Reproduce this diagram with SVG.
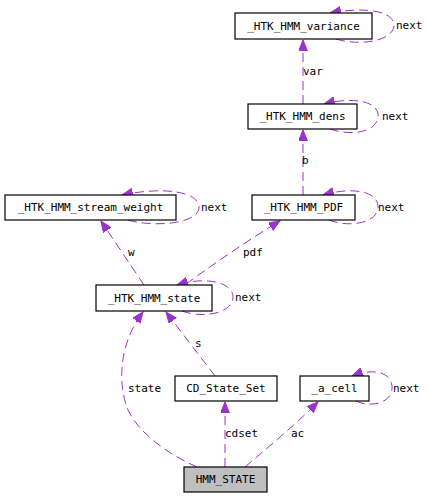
<svg xmlns="http://www.w3.org/2000/svg" width="428" height="497" viewBox="0 0 428 497">
<style>
.box{fill:#fff;stroke:#000;stroke-width:1.2}
.hl{fill:#bfbfbf;stroke:#000;stroke-width:1.2}
text{font-family:"DejaVu Sans Mono","Liberation Mono",monospace;font-size:11px;fill:#000}
.nl{text-anchor:middle}
.e{fill:none;stroke:#9a32cd;stroke-width:1;stroke-dasharray:9,5}
</style>
<defs>
<marker id="ah" markerUnits="userSpaceOnUse" markerWidth="12" markerHeight="10" refX="11" refY="4.5" orient="auto">
<path d="M0,0 L11,4.5 L0,9 z" fill="#9a32cd" stroke="#9a32cd"/>
</marker>
</defs>
<rect width="428" height="497" fill="#fff"/>
<g id="connectors">
<path class="e" marker-end="url(#ah)" d="M303,104 L303,40"/>
<text x="303" y="75">var</text>
<path class="e" marker-end="url(#ah)" d="M303,195 L303,130"/>
<text x="302" y="164">b</text>
<path class="e" marker-end="url(#ah)" d="M144,285 L101,221"/>
<text x="128" y="256">w</text>
<path class="e" marker-end="url(#ah)" d="M186,284 C208,268 248,240 280,221"/>
<text x="243" y="256">pdf</text>
<path class="e" marker-end="url(#ah)" d="M215,376 L166,312"/>
<text x="195" y="347">s</text>
<path class="e" marker-end="url(#ah)" d="M197,467 C170,455 140,435 128,410 C118,385 118,345 143,312"/>
<text x="128" y="392">state</text>
<path class="e" marker-end="url(#ah)" d="M225,467 L225,402"/>
<text x="225" y="437">cdset</text>
<path class="e" marker-end="url(#ah)" d="M245,467 C265,450 295,425 318,402"/>
<text x="291" y="437">ac</text>
<path class="e" marker-end="url(#ah)" d="M336,39 C358,46 392,42 394,26 C395,12 368,6 330,13"/>
<text x="396" y="29">next</text>
<path class="e" marker-end="url(#ah)" d="M330,129 C350,136 376,133 378,117 C380,102 355,96 324,104"/>
<text x="382" y="120">next</text>
<path class="e" marker-end="url(#ah)" d="M128,220 C150,227 197,225 199,208 C200,192 165,186 122,195"/>
<text x="201" y="211">next</text>
<path class="e" marker-end="url(#ah)" d="M329,220 C345,227 376,225 378,208 C379,192 355,186 323,195"/>
<text x="378" y="211">next</text>
<path class="e" marker-end="url(#ah)" d="M182,311 C200,318 231,315 233,298 C234,282 205,276 177,285"/>
<text x="235" y="301">next</text>
<path class="e" marker-end="url(#ah)" d="M356,401 C368,407 390,405 392,389 C393,373 375,367 352,376"/>
<text x="393" y="392">next</text>
</g>
<g id="n_variance"><rect class="box" x="235" y="13" width="137" height="26"/><text class="nl" x="303.5" y="30">_HTK_HMM_variance</text></g>
<g id="n_dens"><rect class="box" x="248" y="104" width="109" height="25"/><text class="nl" x="302.5" y="120">_HTK_HMM_dens</text></g>
<g id="n_stream_weight"><rect class="box" x="5" y="195" width="171" height="25"/><text class="nl" x="90.5" y="211">_HTK_HMM_stream_weight</text></g>
<g id="n_pdf"><rect class="box" x="252" y="195" width="103" height="25"/><text class="nl" x="303.5" y="211">_HTK_HMM_PDF</text></g>
<g id="n_state"><rect class="box" x="96" y="285" width="116" height="26"/><text class="nl" x="154" y="302">_HTK_HMM_state</text></g>
<g id="n_cd_state_set"><rect class="box" x="175" y="376" width="102" height="25"/><text class="nl" x="226" y="392">CD_State_Set</text></g>
<g id="n_a_cell"><rect class="box" x="300" y="376" width="69" height="25"/><text class="nl" x="334.5" y="392">_a_cell</text></g>
<g id="n_hmm_state"><rect class="hl" x="184" y="467" width="83" height="25"/><text class="nl" x="225.5" y="483">HMM_STATE</text></g>
</svg>
